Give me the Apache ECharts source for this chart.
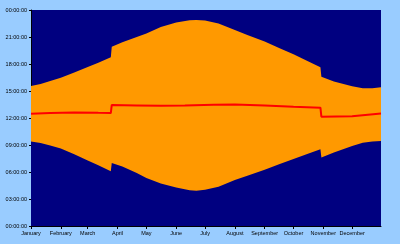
<!DOCTYPE html>
<html>
<head>
<meta charset="utf-8">
<script src="https://cdn.jsdelivr.net/npm/echarts@6/dist/echarts.min.js"></script>
<style>
html,body{margin:0;padding:0;background:#99CCFF;}
#chart{width:400px;height:244px;}
</style>
</head>
<body>
<div id="chart"></div>
<script>
// Day of year (0 = 1 January, 364 = 31 December)
var monthNames = ["January","February","March","April","May","June","July","August","September","October","November","December"];
var monthStarts = [0,31,59,90,120,151,181,212,243,273,304,334];
var yTicks = [0,3,6,9,12,15,18,21,24];

// Sunset time (hours)
var sunsetDays  = [0,10,20,31,45,59,70,83,84,95,110,120,135,151,165,172,181,195,212,225,243,258,273,288,301,302,315,334,345,355,364];
var sunsetHours = [15.56,15.78,16.10,16.48,17.05,17.68,18.15,18.76,19.93,20.42,21.00,21.39,22.11,22.62,22.85,22.89,22.83,22.50,21.78,21.22,20.50,19.78,19.07,18.30,17.63,16.59,16.05,15.52,15.30,15.30,15.41];

// Sunrise time (hours)
var sunriseDays  = [0,10,20,31,45,59,70,83,84,95,110,120,135,151,165,172,181,195,212,225,243,258,273,288,301,302,315,334,345,355,364];
var sunriseHours = [9.38,9.22,8.95,8.60,7.98,7.28,6.75,6.08,7.00,6.60,5.90,5.33,4.72,4.27,3.97,3.93,4.03,4.35,5.10,5.58,6.25,6.85,7.45,8.02,8.52,7.62,8.17,8.90,9.25,9.40,9.44];

// Solar noon (hours)
var noonDays  = [0,20,45,70,83,84,110,135,160,190,212,243,273,301,302,334,364];
var noonHours = [12.47,12.56,12.62,12.57,12.55,13.45,13.40,13.35,13.40,13.48,13.50,13.40,13.25,13.15,12.15,12.20,12.50];

function pairs(xs, ys){ var out=[]; for(var i=0;i<xs.length;i++){ out.push([xs[i], ys[i]]); } return out; }
function pad(n){ return (n<10?'0':'')+n; }

var chart = echarts.init(document.getElementById('chart'), null, {renderer:'canvas'});
var labelFont = {fontFamily:'Liberation Sans, Arial, sans-serif', fontSize:5.5, color:'#000'};

chart.setOption({
  backgroundColor:'#99CCFF',
  animation:false,
  grid:{left:31, right:19, top:10, bottom:18, show:true, backgroundColor:'#000080', borderWidth:0},
  xAxis:{
    type:'value', min:0, max:364,
    splitLine:{show:false},
    axisLine:{show:true, lineStyle:{color:'#000', width:1}},
    axisTick:{show:true, length:3, customValues:monthStarts, lineStyle:{color:'#000'}},
    axisLabel:Object.assign({margin:4, customValues:monthStarts, formatter:function(v){ var i=monthStarts.indexOf(Math.round(v)); return i>=0?monthNames[i]:''; }}, labelFont)
  },
  yAxis:{
    type:'value', min:0, max:24, interval:3,
    splitLine:{show:false},
    axisLine:{show:true, lineStyle:{color:'#000', width:1}},
    axisTick:{show:true, length:2, lineStyle:{color:'#000'}},
    axisLabel:Object.assign({margin:4, formatter:function(v){ return pad(Math.round(v)%24)+':00:00'; }}, labelFont)
  },
  series:[
    {name:'Sunset', type:'line', data:pairs(sunsetDays,sunsetHours), symbol:'none', lineStyle:{width:0}, areaStyle:{color:'#FF9900', opacity:1}, z:2},
    {name:'Sunrise', type:'line', data:pairs(sunriseDays,sunriseHours), symbol:'none', lineStyle:{width:0}, areaStyle:{color:'#000080', opacity:1}, z:3},
    {name:'Noon', type:'line', data:pairs(noonDays,noonHours), symbol:'none', lineStyle:{width:2, color:'#FF0000'}, z:4}
  ]
});
</script>
</body>
</html>
